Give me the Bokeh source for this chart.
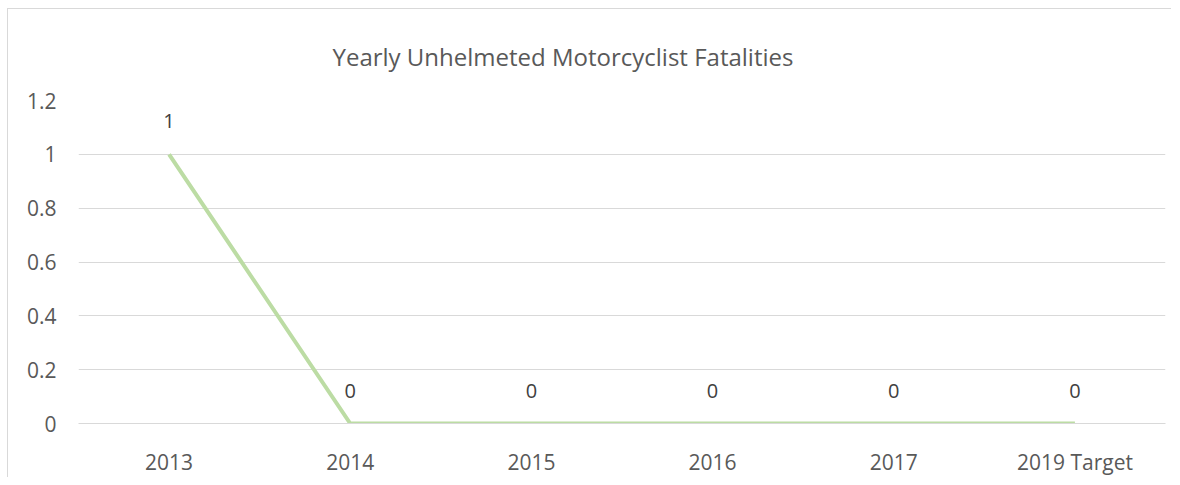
from bokeh.plotting import figure
from bokeh.models import FixedTicker, ColumnDataSource, Title
from bokeh.core.properties import value
from bokeh.embed import file_html
from bokeh.resources import INLINE

categories = ["2013", "2014", "2015", "2016", "2017", "2019 Target"]
fatalities = [1, 0, 0, 0, 0, 0]
y_ticks = [0, 0.2, 0.4, 0.6, 0.8, 1, 1.2]
y_tick_labels = ["0", "0.2", "0.4", "0.6", "0.8", "1", "1.2"]
title_text = "Yearly Unhelmeted  Motorcyclist Fatalities"

FONT = "Open Sans"
GREY = "#595959"

p = figure(x_range=categories, y_range=(0, 1.2), width=1164, height=469,
           output_backend="svg", toolbar_location=None,
           min_border_left=70, min_border_right=7, min_border_top=90, min_border_bottom=53)
p.title = Title(text=title_text, align="left", offset=254, text_font=FONT, text_font_size="24px",
                text_color=GREY, text_font_style="normal", standoff=56)
p.outline_line_color = None
p.styles = {"border-left": "1px solid #d9d9d9", "border-top": "1px solid #d9d9d9",
            "margin-left": "7px", "margin-top": "8px"}

src = ColumnDataSource(dict(x=categories, y=fatalities, lbl=[str(v) for v in fatalities]))
p.line("x", "y", source=src, line_color="#bcdca4", line_width=4)
p.text("x", "y", text="lbl", source=src, text_align="center", text_baseline="middle",
       y_offset=-33, text_font=value(FONT), text_font_size="20px", text_color="#404040")

p.xgrid.grid_line_color = None
p.ygrid.grid_line_color = "#d9d9d9"
p.ygrid.grid_line_width = 1

p.yaxis.ticker = FixedTicker(ticks=y_ticks)
p.yaxis.major_label_overrides = {t: l for t, l in zip(y_ticks, y_tick_labels)}
p.yaxis.axis_line_color = None
p.yaxis.major_tick_line_color = None
p.yaxis.minor_tick_line_color = None
p.yaxis.major_tick_out = 0
p.yaxis.major_label_standoff = 22

p.xaxis.axis_line_color = "#d9d9d9"
p.xaxis.major_tick_line_color = None
p.xaxis.major_tick_out = 0
p.xaxis.major_label_standoff = 24

for ax in (p.xaxis, p.yaxis):
    ax.major_label_text_font = FONT
    ax.major_label_text_font_size = "21px"
    ax.major_label_text_color = GREY

open("out.html", "w").write(file_html(p, INLINE))
